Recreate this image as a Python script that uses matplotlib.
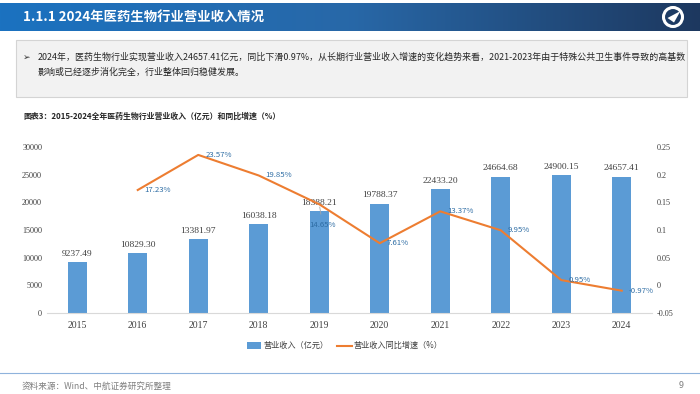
import numpy as np
import matplotlib
matplotlib.use("Agg")
import matplotlib.pyplot as plt
from matplotlib.patches import Rectangle, Circle, Polygon

plt.rcParams['font.family'] = ['Noto Sans CJK SC', 'DejaVu Sans']

# data
years = ['2015', '2016', '2017', '2018', '2019', '2020', '2021', '2022', '2023', '2024']
revenue = [9237.49, 10829.30, 13381.97, 16038.18, 18388.21, 19788.37, 22433.20, 24664.68, 24900.15, 24657.41]
growth_years = ['2016', '2017', '2018', '2019', '2020', '2021', '2022', '2023', '2024']
growth = [17.23, 23.57, 19.85, 14.65, 7.61, 13.37, 9.95, 0.95, -0.97]  # %

left_ticks = [0, 5000, 10000, 15000, 20000, 25000, 30000]
right_ticks = [-0.05, 0, 0.05, 0.1, 0.15, 0.2, 0.25]
right_ticklabels = ['-0.05', '0', '0.05', '0.1', '0.15', '0.2', '0.25']

title = '1.1.1 2024年医药生物行业营业收入情况'
body1 = ('2024年，医药生物行业实现营业收入24657.41亿元，同比下滑0.97%，从长期行业营业收入增速的变化趋势来看，'
         '2021-2023年由于特殊公共卫生事件导致的高基数')
body2 = '影响或已经逐步消化完全，行业整体回归稳健发展。'
chart_title = '图表3：2015-2024全年医药生物行业营业收入（亿元）和同比增速（%）'
source = '资料来源：Wind、中航证券研究所整理'

W, H = 700, 394
fig = plt.figure(figsize=(7, 3.94), dpi=100)

def fx(x):
    return x / W

def fy(y):
    return 1 - y / H

# header band with gradient
hdr = fig.add_axes([0, fy(31), 1, (31 - 3) / H])
c0 = np.array([27, 114, 192]) / 255
cm = np.array([40, 104, 168]) / 255
c1 = np.array([29, 56, 95]) / 255
t = np.linspace(0, 1, 256)
grad = np.where(t[:, None] < 0.5,
                c0[None, :] * (1 - 2 * t[:, None]) + cm[None, :] * 2 * t[:, None],
                cm[None, :] * (2 - 2 * t[:, None]) + c1[None, :] * (2 * t[:, None] - 1))
hdr.imshow(grad[None, :, :], aspect='auto', extent=[0, 1, 0, 1])
hdr.axis('off')
fig.text(fx(23), fy(17), title, color='white', fontsize=9.6, fontweight='bold', va='center', ha='left')

# logo
lg = fig.add_axes([fx(661), fy(29), 24 / W, 24 / H])
lg.set_xlim(-1.2, 1.2)
lg.set_ylim(-1.2, 1.2)
lg.set_aspect('equal')
lg.axis('off')
lg.add_patch(Circle((0, 0), 0.95, facecolor='none', edgecolor='white', lw=2.2))
lg.add_patch(Polygon([[-0.55, -0.1], [0.75, 0.6], [0.1, -0.55]], closed=True, facecolor='white', edgecolor='none'))

# text box
fig.patches.append(Rectangle((fx(16), fy(97)), (687 - 16) / W, (97 - 40) / H, transform=fig.transFigure,
                             facecolor='#f2f2f2', edgecolor='#d4d4d4', lw=0.8))
fig.text(fx(23), fy(57), '➢', fontsize=6.5, color='#333333', va='center', ha='left', family=['DejaVu Sans'])
fig.text(fx(38), fy(57), body1, fontsize=6.45, color='#262626', va='center', ha='left')
fig.text(fx(38), fy(72), body2, fontsize=6.45, color='#262626', va='center', ha='left')

# chart title
fig.text(fx(23), fy(116), chart_title, fontsize=5.7, fontweight='bold', color='#262626', va='center', ha='left')

# main chart
ax = fig.add_axes([fx(47), fy(313), (652 - 47) / W, (313 - 147) / H])
x = np.arange(len(years))
bars = ax.bar(x, revenue, width=0.31, color='#5b9bd5', zorder=2)
ax.bar_label(bars, labels=[f'{v:.2f}' for v in revenue], padding=3, fontsize=6.8,
             color='#404040', family='Liberation Serif')
ax.set_xlim(-0.5, len(years) - 0.5)
ax.set_ylim(0, 30000)
ax.set_yticks(left_ticks)
ax.set_yticklabels([str(v) for v in left_ticks])
ax.set_xticks(x)
ax.set_xticklabels(years)
for lab in ax.get_yticklabels():
    lab.set_family('Liberation Serif')
    lab.set_fontsize(5.9)
    lab.set_color('#404040')
for lab in ax.get_xticklabels():
    lab.set_family('Liberation Serif')
    lab.set_fontsize(7)
    lab.set_color('#404040')
ax.tick_params(axis='y', length=0, pad=3.5)
ax.tick_params(axis='x', length=0, pad=6)
for s in ['top', 'right', 'left']:
    ax.spines[s].set_visible(False)
ax.spines['bottom'].set_color('#d9d9d9')
ax.spines['bottom'].set_linewidth(0.8)

ax2 = ax.twinx()
gx = [years.index(y) for y in growth_years]
gv = [g / 100 for g in growth]
ax2.plot(gx, gv, color='#ed7d31', lw=1.5, zorder=3)
ax2.set_ylim(-0.05, 0.25)
ax2.set_yticks(right_ticks)
ax2.set_yticklabels(right_ticklabels)
for lab in ax2.get_yticklabels():
    lab.set_family('Liberation Serif')
    lab.set_fontsize(5.9)
    lab.set_color('#404040')
ax2.tick_params(axis='y', length=0, pad=3.5)
for s in ['top', 'right', 'left', 'bottom']:
    ax2.spines[s].set_visible(False)

for xi, v, g in zip(gx, gv, growth):
    if growth_years[xi - 1] == '2019':
        ax2.annotate(f'{g:.2f}%', (xi, v), xytext=(-7, -15), textcoords='offset points',
                     fontsize=5.6, color='#2e6da4', ha='left', va='center',
                     arrowprops=dict(arrowstyle='-', color='#a6a6a6', lw=0.6, shrinkA=3, shrinkB=2))
    else:
        ax2.annotate(f'{g:.2f}%', (xi, v), xytext=(5, 0), textcoords='offset points',
                     fontsize=5.6, color='#2e6da4', ha='left', va='center')

# legend
fig.patches.append(Rectangle((fx(247), fy(349)), 14 / W, 7 / H, transform=fig.transFigure,
                             facecolor='#5b9bd5', edgecolor='none'))
fig.text(fx(264), fy(345.5), '营业收入（亿元）', fontsize=5.9, color='#404040', va='center', ha='left')
fig.lines.append(plt.Line2D([fx(337), fx(352)], [fy(345.5), fy(345.5)], transform=fig.transFigure,
                            color='#ed7d31', lw=1.5))
fig.text(fx(354), fy(345.5), '营业收入同比增速（%）', fontsize=5.9, color='#404040', va='center', ha='left')

# footer
fig.lines.append(plt.Line2D([0, 1], [fy(373), fy(373)], transform=fig.transFigure, color='#8fb3dc', lw=0.8))
fig.text(fx(22), fy(386), source, fontsize=6.2, color='#7f7f7f', va='center', ha='left')
fig.text(fx(681), fy(385), '9', fontsize=6.5, color='#7f7f7f', va='center', ha='center')

fig.savefig('out.png', dpi=100)
